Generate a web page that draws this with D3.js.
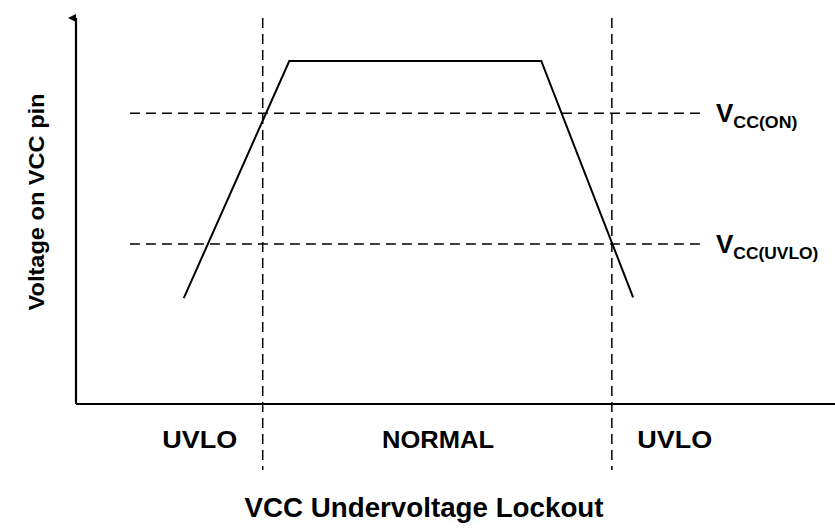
<!DOCTYPE html>
<html>
<head>
<meta charset="utf-8">
<script src="https://cdn.jsdelivr.net/npm/d3@7"></script>
<style>
  body { margin: 0; background: #fff; }
  text { font-family: "Liberation Sans", Arial, sans-serif; font-weight: bold; fill: #000; }
</style>
</head>
<body>
<svg id="chart" width="835" height="531"></svg>
<script>
// trace of VCC over time (normalized units)
const traceX = [14.2, 28.1, 61.3, 73.4];
const traceY = [27, 87.5, 87.5, 27.2];
// threshold levels
const levelNames = ["ON", "UVLO"];
const levelValues = [74.2, 40.8];
// region boundaries and labels
const boundaries = [24.6, 70.6];
const regionLabels = ["UVLO", "NORMAL", "UVLO"];
const regionCenters = [16.3, 47.7, 78.9];

const svg = d3.select("#chart");
const x = d3.scaleLinear().domain([0, 100]).range([76, 835]);
const y = d3.scaleLinear().domain([0, 100]).range([404, 12]);

// axes
svg.append("defs").append("marker")
    .attr("id", "arrow")
    .attr("viewBox", "0 0 10 10")
    .attr("refX", 5).attr("refY", 10)
    .attr("markerWidth", 8).attr("markerHeight", 10)
    .attr("markerUnits", "userSpaceOnUse")
    .attr("orient", "auto-start-reverse")
    .append("path").attr("d", "M0,10 L5,0 L10,10 Z").attr("fill", "#000");

svg.append("line")
    .attr("x1", x(0)).attr("x2", x(0))
    .attr("y1", y(0)).attr("y2", 18)
    .attr("stroke", "#000").attr("stroke-width", 2.2)
    .attr("marker-end", "url(#arrow)");
svg.append("line")
    .attr("x1", x(0)).attr("x2", x(100))
    .attr("y1", y(0)).attr("y2", y(0))
    .attr("stroke", "#000").attr("stroke-width", 2.2);

// threshold dashed lines
svg.selectAll(".level").data(levelValues).enter().append("line")
    .attr("x1", x(7.1)).attr("x2", x(82.2))
    .attr("y1", d => y(d)).attr("y2", d => y(d))
    .attr("stroke", "#000").attr("stroke-width", 1.5)
    .attr("stroke-dasharray", "10,6");

// boundary dashed lines
svg.selectAll(".bound").data(boundaries).enter().append("line")
    .attr("x1", d => x(d)).attr("x2", d => x(d))
    .attr("y1", 18).attr("y2", 470)
    .attr("stroke", "#000").attr("stroke-width", 1.5)
    .attr("stroke-dasharray", "10,6");

// trace
const line = d3.line().x(d => x(d[0])).y(d => y(d[1]));
svg.append("path")
    .datum(d3.zip(traceX, traceY))
    .attr("d", line)
    .attr("fill", "none").attr("stroke", "#000").attr("stroke-width", 2);

// level labels
const subWidths = [64, 85];
levelValues.forEach((v, i) => {
    const t = svg.append("text")
        .attr("x", 716).attr("y", y(v) + 9)
        .style("font-size", "26px");
    t.append("tspan").text("V");
    t.append("tspan")
        .attr("dy", 6)
        .attr("textLength", subWidths[i])
        .attr("lengthAdjust", "spacingAndGlyphs")
        .style("font-size", "16px")
        .text("CC(" + levelNames[i] + ")");
});

// region labels
svg.selectAll(".region").data(regionLabels).enter().append("text")
    .attr("x", (d, i) => x(regionCenters[i]))
    .attr("y", 448)
    .attr("text-anchor", "middle")
    .attr("textLength", d => d === "NORMAL" ? 112 : 75)
    .attr("lengthAdjust", "spacingAndGlyphs")
    .style("font-size", "24px")
    .text(d => d);

// axis titles
svg.append("text")
    .attr("x", 424).attr("y", 517)
    .attr("text-anchor", "middle")
    .attr("textLength", 359)
    .attr("lengthAdjust", "spacingAndGlyphs")
    .style("font-size", "28px")
    .text("VCC Undervoltage Lockout");

svg.append("text")
    .attr("transform", "translate(44,202) rotate(-90)")
    .attr("text-anchor", "middle")
    .attr("textLength", 217)
    .attr("lengthAdjust", "spacingAndGlyphs")
    .style("font-size", "22px")
    .text("Voltage on VCC pin");
</script>
</body>
</html>
